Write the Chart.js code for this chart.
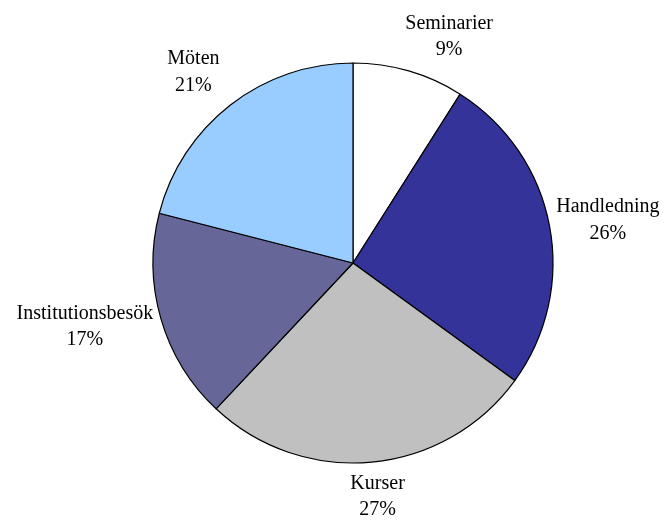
<!DOCTYPE html>
<html>
<head>
<meta charset="utf-8">
<script src="https://cdn.jsdelivr.net/npm/chart.js@4"></script>
<style>
html,body{margin:0;padding:0;background:#fff;}
#wrap{width:667px;height:520px;position:relative;}
</style>
</head>
<body>
<div id="wrap"><canvas id="c" width="667" height="520"></canvas></div>
<script>
const categories = ["Seminarier", "Handledning", "Kurser", "Institutionsbesök", "Möten"];
const values = [9, 26, 27, 17, 21];
const colors = ["#FFFFFF", "#333399", "#C0C0C0", "#666699", "#99CCFF"];

const labelPlugin = {
  id: 'outsideLabels',
  afterDatasetsDraw(chart) {
    const ctx = chart.ctx;
    const meta = chart.getDatasetMeta(0);
    const total = values.reduce((a, b) => a + b, 0);
    ctx.save();
    ctx.font = '20px "Liberation Serif", "Times New Roman", serif';
    ctx.fillStyle = '#000';
    ctx.textAlign = 'center';
    ctx.textBaseline = 'middle';
    const lh = 26.5;
    meta.data.forEach((arc, i) => {
      const p = arc.getProps(['x', 'y', 'startAngle', 'endAngle', 'outerRadius'], true);
      const mid = (p.startAngle + p.endAngle) / 2;
      const r = p.outerRadius + 8;
      const px = p.x + Math.cos(mid) * r;
      const py = p.y + Math.sin(mid) * r;
      const lines = [categories[i], Math.round(values[i] / total * 100) + '%'];
      const w = Math.max(...lines.map(l => ctx.measureText(l).width));
      const h = lines.length * lh;
      const cx = Math.cos(mid), cy = Math.sin(mid);
      let left;
      if (cx > 0.2) left = px - 6 * Math.abs(cy); else if (cx < -0.2) left = px - w + (cy < 0 ? -6 : 0); else left = px - w / 2 + 5;
      let top;
      if (cy > 0.35) top = py; else if (cy < -0.35) top = py - h; else top = py - h / 2 + cy * 20;
      lines.forEach((l, k) => ctx.fillText(l, left + w / 2, top + lh / 2 + k * lh));
    });
    ctx.restore();
  }
};

new Chart(document.getElementById('c'), {
  type: 'pie',
  data: {
    labels: categories,
    datasets: [{
      data: values,
      backgroundColor: colors,
      borderColor: '#000000',
      borderWidth: 1.2,
      hoverOffset: 0
    }]
  },
  options: {
    responsive: false,
    animation: false,
    radius: 200,
    layout: { padding: { left: 39, right: 0, top: 6, bottom: 0 } },
    plugins: { legend: { display: false }, tooltip: { enabled: false } }
  },
  plugins: [labelPlugin]
});
</script>
</body>
</html>
